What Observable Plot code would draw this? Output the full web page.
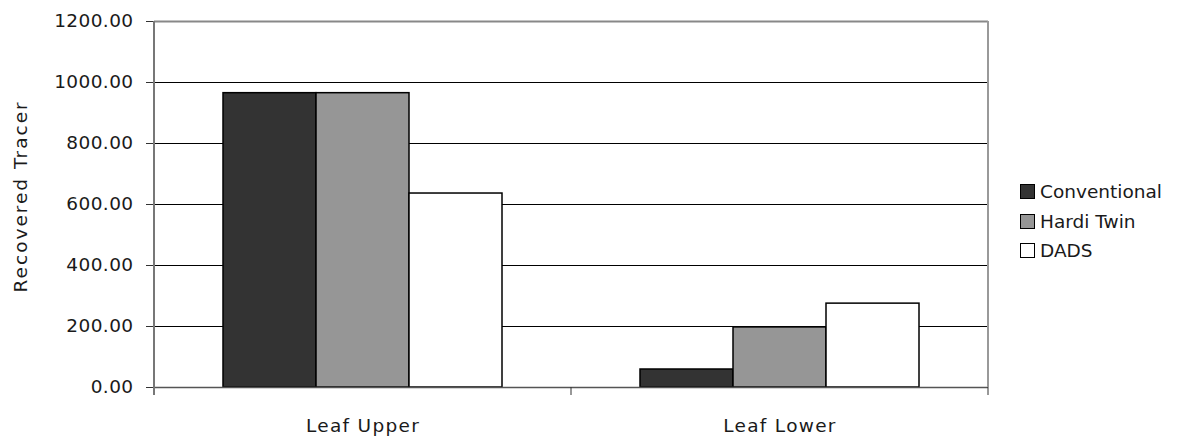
<!DOCTYPE html>
<html>
<head>
<meta charset="utf-8">
<script src="https://cdn.jsdelivr.net/npm/d3@7"></script>
<script src="https://cdn.jsdelivr.net/npm/@observablehq/plot@0.6"></script>
<style>
  html, body { margin: 0; padding: 0; background: #fff; }
  #wrap { position: relative; width: 1204px; height: 446px; font-family: "DejaVu Sans", sans-serif; color: #1a1a1a; }
  #legend { position: absolute; left: 1020px; top: 177px; font-size: 18.5px; }
  #legend .row { display: flex; align-items: center; height: 29.5px; }
  #legend .sw { width: 13px; height: 13px; border: 1.5px solid #000; margin-right: 5px; }
</style>
</head>
<body>
<div id="wrap"></div>
<script>
const categories = ["Leaf Upper", "Leaf Lower"];
const series = ["Conventional", "Hardi Twin", "DADS"];
const conventional = [965, 59];
const hardiTwin = [965, 197];
const dads = [636, 275];
const yTicks = [0, 200, 400, 600, 800, 1000, 1200];
const colors = ["#333333", "#969696", "#ffffff"];
const yLabel = "Recovered Tracer";

const valuesBySeries = [conventional, hardiTwin, dads];
const data = categories.flatMap((c, i) =>
  series.map((s, j) => ({category: c, series: s, value: valuesBySeries[j][i]}))
);

const chart = Plot.plot({
  width: 1204,
  height: 446,
  marginLeft: 154,
  marginRight: 216,
  marginTop: 21,
  marginBottom: 59,
  style: {fontFamily: "DejaVu Sans, sans-serif", fontSize: "18.5px", color: "#1a1a1a", background: "white", overflow: "visible"},
  fx: {domain: categories, padding: 0, label: null},
  x: {domain: series, paddingInner: 0, paddingOuter: 0.727, axis: null},
  y: {domain: [0, 1200], label: null},
  color: {domain: series, range: colors},
  marks: [
    Plot.gridY(yTicks.filter(t => t > 0 && t < 1200), {stroke: "#000", strokeOpacity: 1, strokeWidth: 1}),
    Plot.ruleY([1200], {stroke: "#888", strokeWidth: 2}),
    Plot.barY(data, {fx: "category", x: "series", y: "value", fill: "series", stroke: "#000", strokeWidth: 1.5}),
    Plot.ruleY([0], {stroke: "#555", strokeWidth: 1.5}),
    Plot.axisY({ticks: yTicks, tickFormat: d => d.toFixed(2), tickSize: 8, tickPadding: 13, label: null, stroke: "#333", fontSize: 18.5}),
    Plot.axisFx({anchor: "bottom", tickSize: 0, tickPadding: 31, label: null, fontSize: 18.5})
  ]
});

document.getElementById("wrap").appendChild(chart);

const svg = d3.select(chart);
svg.selectAll("g[aria-label='fx-axis tick label'] text").attr("letter-spacing", "1.3px");
svg.selectAll("g[aria-label='y-axis tick label'] text").attr("letter-spacing", "0.4px");

// decorations using the plot's own scales
const fx = chart.scale("fx");
const y = chart.scale("y");
const y0 = y.apply(0), yTop = y.apply(1200);
const bounds = categories.map(c => fx.apply(c));
bounds.push(fx.apply(categories[categories.length - 1]) + fx.bandwidth);
const g = svg.append("g");
// left axis line
g.append("line").attr("x1", bounds[0]).attr("x2", bounds[0]).attr("y1", yTop).attr("y2", y0 + 8)
  .attr("stroke", "#777").attr("stroke-width", 2);
// right border
g.append("line").attr("x1", bounds[bounds.length - 1]).attr("x2", bounds[bounds.length - 1]).attr("y1", yTop).attr("y2", y0)
  .attr("stroke", "#999").attr("stroke-width", 2);
// category boundary ticks
bounds.slice(1).forEach(b => {
  g.append("line").attr("x1", b).attr("x2", b).attr("y1", y0).attr("y2", y0 + 8).attr("stroke", "#333").attr("stroke-width", 1);
});
// y label
g.append("text").attr("transform", `translate(20,${y.apply(625)}) rotate(-90)`)
  .attr("text-anchor", "middle").attr("dominant-baseline", "central")
  .attr("font-size", 18.5).attr("letter-spacing", "2px").attr("fill", "#1a1a1a").text(yLabel);

// legend
const legend = d3.select("#wrap").append("div").attr("id", "legend");
series.forEach((s, i) => {
  const row = legend.append("div").attr("class", "row");
  row.append("div").attr("class", "sw").style("background", colors[i]);
  row.append("span").text(s);
});
</script>
</body>
</html>
